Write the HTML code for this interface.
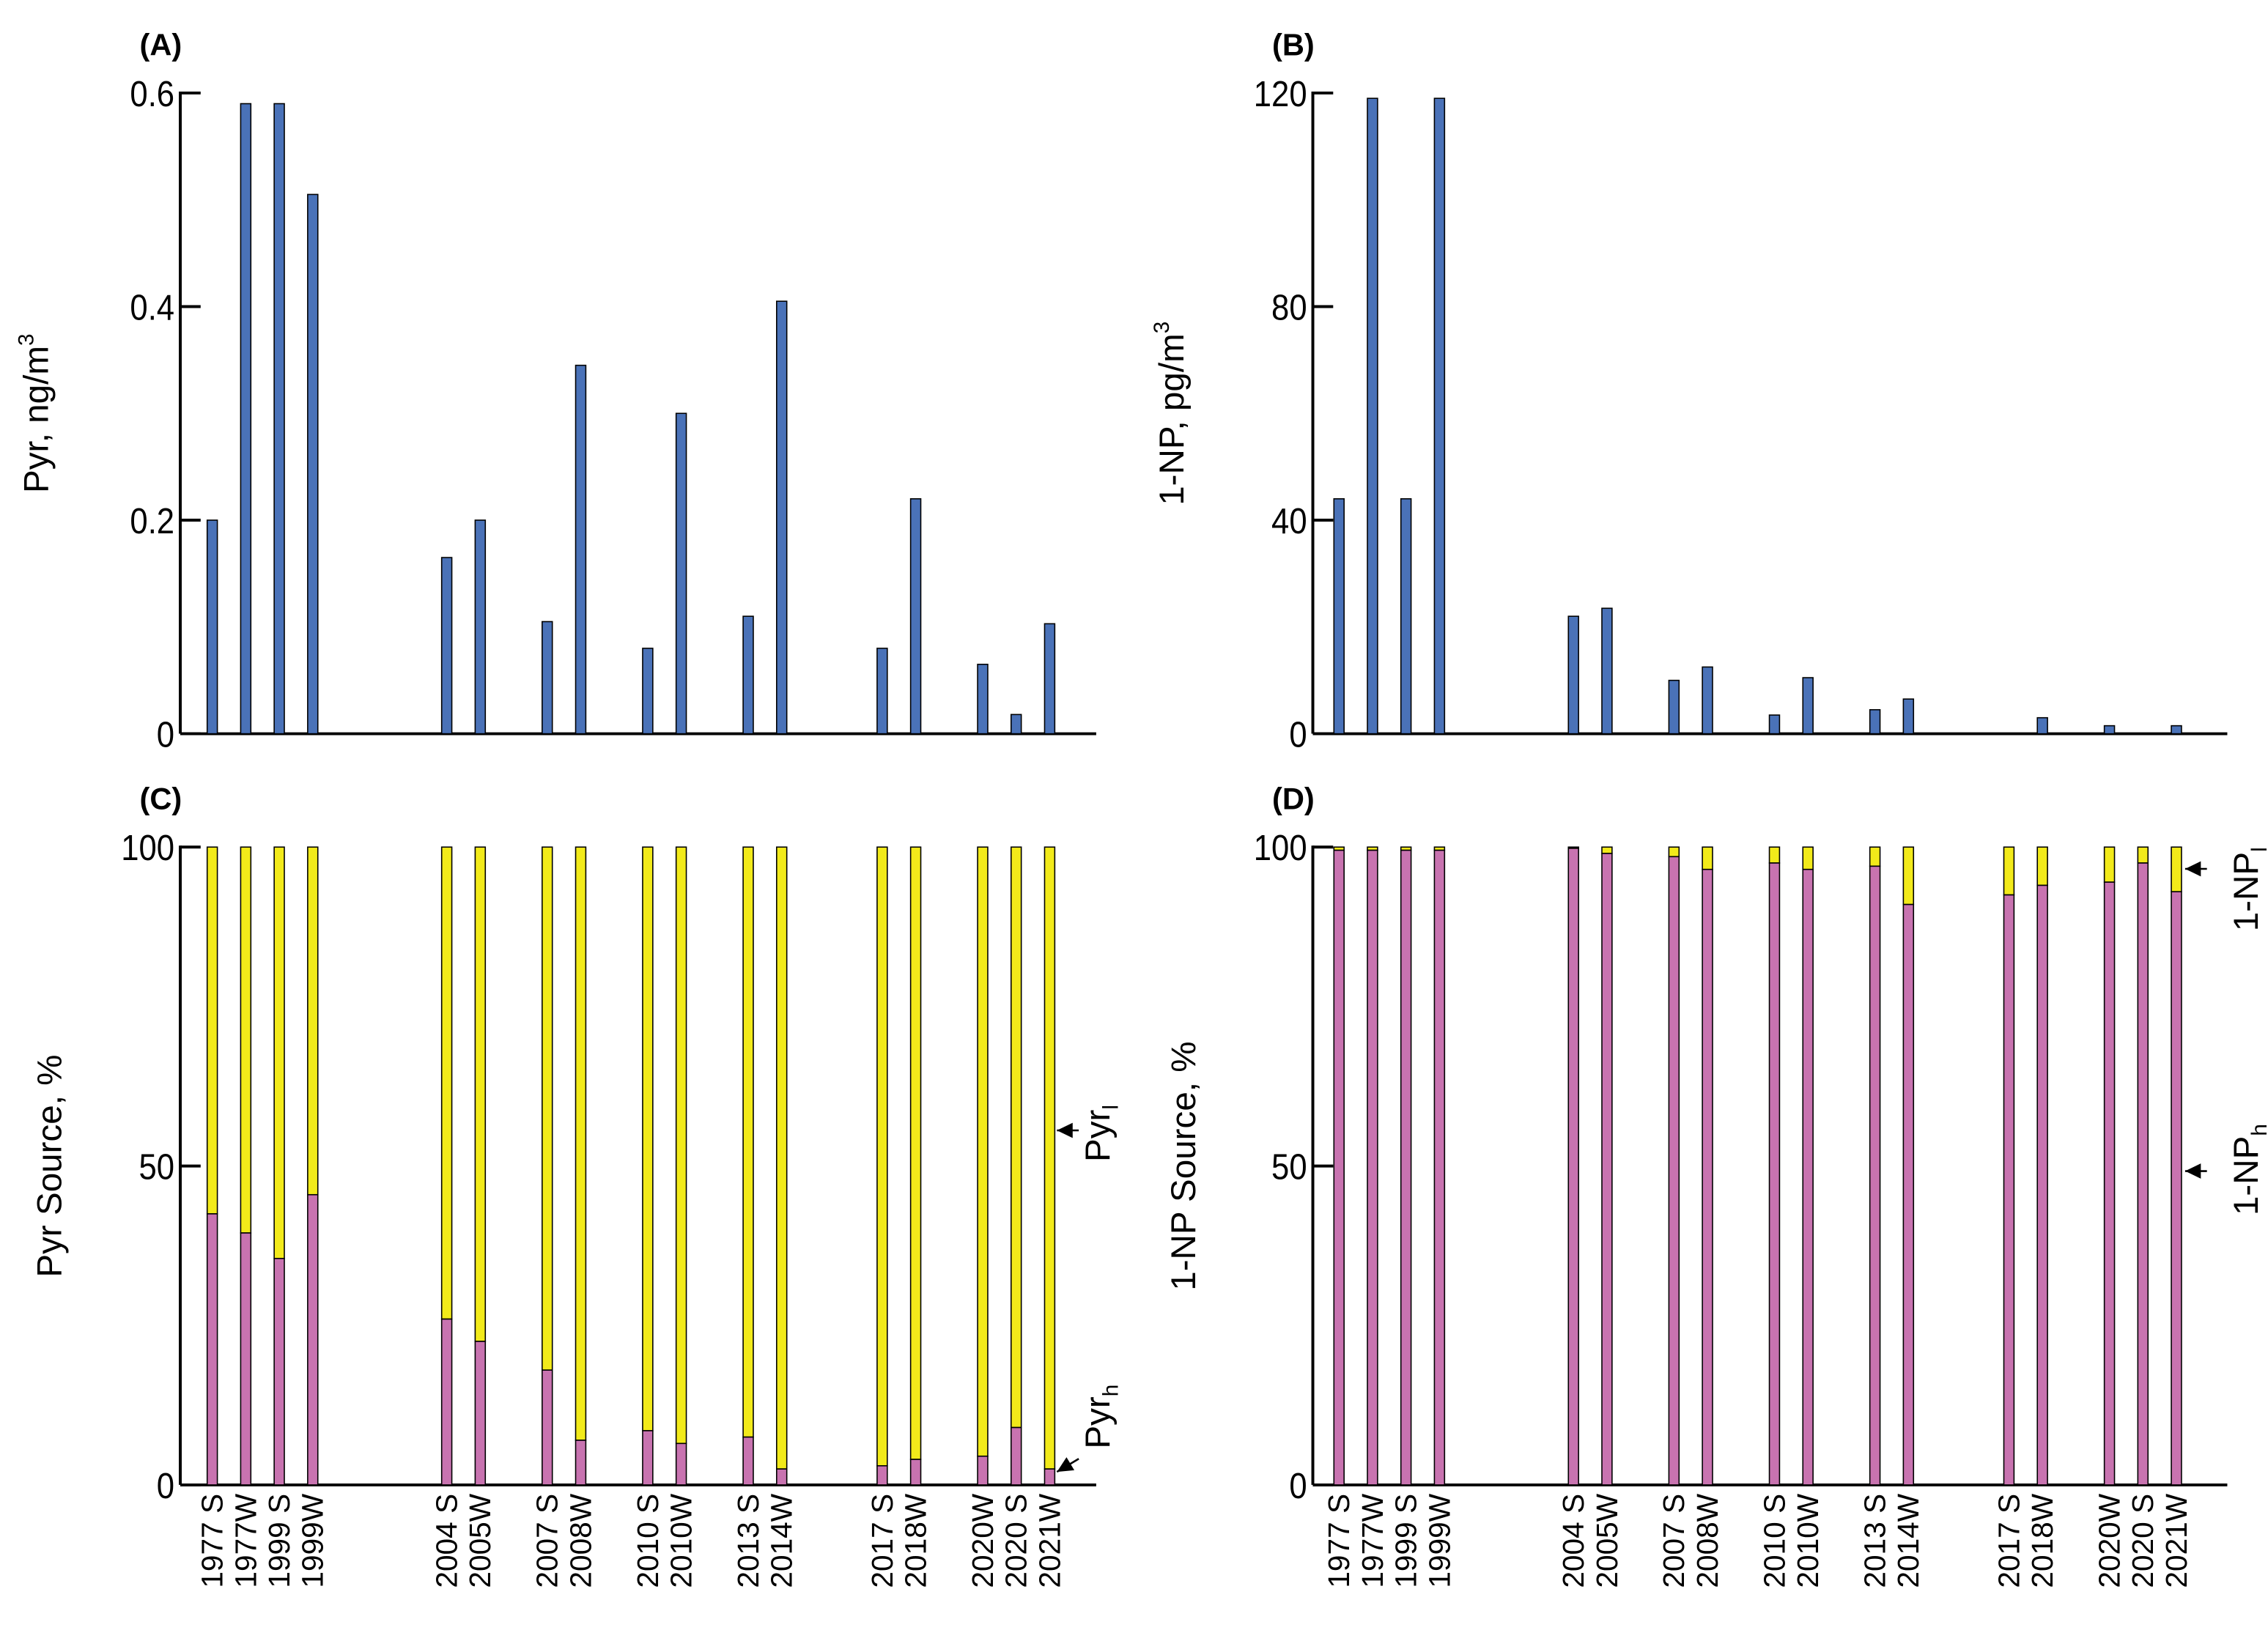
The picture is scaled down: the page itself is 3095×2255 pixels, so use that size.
<!DOCTYPE html>
<html><head><meta charset="utf-8"><style>
html,body{margin:0;padding:0;background:#fff}
svg{display:block}
text{font-family:"Liberation Sans",Arial,sans-serif;fill:#000}
</style></head><body>
<svg id="chart" width="3095" height="2255" viewBox="0 0 1560 1137" preserveAspectRatio="none" xmlns="http://www.w3.org/2000/svg"></svg>
<script>
const categories=["1977 S","1977W","1999 S","1999W","2004 S","2005W","2007 S","2008W","2010 S","2010W","2013 S","2014W","2017 S","2018W","2020W","2020 S","2021W"];
const pyrValues=[0.2,0.59,0.59,0.505,0.165,0.2,0.105,0.345,0.08,0.30,0.11,0.405,0.08,0.22,0.065,0.018,0.103];
const npValues=[44,119,44,119,22,23.5,10,12.5,3.5,10.5,4.5,6.5,0,3,1.5,0,1.5];
const pyrHeavy=[42.5,39.5,35.5,45.5,26,22.5,18,7,8.5,6.5,7.5,2.5,3,4,4.5,9,2.5];
const npHeavy=[99.5,99.5,99.5,99.5,99.8,99,98.5,96.5,97.5,96.5,97,91,92.5,94,94.5,97.5,93];
const pyrTicks=[0,0.2,0.4,0.6];
const npTicks=[0,40,80,120];
const pctTicks=[0,50,100];
const groupIdx=[0,1,2,3,7,8,10,11,13,14,16,17,20,21,23,24,25];

const svg=document.getElementById('chart');
const NS='http://www.w3.org/2000/svg';
function mk(tag,attrs,parent){const e=document.createElementNS(NS,tag);for(const k in attrs)e.setAttribute(k,attrs[k]);(parent||svg).appendChild(e);return e;}

function panel(opt){
  const g=mk('g',{});
  
  
  const x0=opt.x0,x1=opt.x1,yT=opt.yT,yB=opt.yB,ymax=opt.ymax;
  const ys=v=>yB-(v/ymax)*(yB-yT);
  const xs=i=>opt.firstX+groupIdx[i]*23.04;
  const ya=mk('line',{x1:x0,y1:yT-1,x2:x0,y2:yB,stroke:'#000','stroke-width':2},g);
  
  const xa=mk('line',{x1:x0,y1:yB,x2:x1,y2:yB,stroke:'#000','stroke-width':2},g);
  
  opt.ticks.forEach(t=>{
    const tk=mk('line',{x1:x0,y1:ys(t),x2:x0+14,y2:ys(t),stroke:'#000','stroke-width':2},g);
    
    const tl=mk('text',{x:x0-4,y:ys(t)+9,'text-anchor':'end','font-size':25,transform:`translate(${x0-4} 0) scale(0.88 1) translate(${-(x0-4)} 0)`},g);
    tl.textContent=String(t);
    
  });
  const tt=mk('text',{x:opt.titleX,y:(yT+yB)/2,'text-anchor':'middle','font-size':24,transform:`rotate(-90 ${opt.titleX} ${(yT+yB)/2})`},g);
  tt.innerHTML=opt.title;
  
  const lt=mk('text',{x:x0-28,y:opt.letterY,'font-size':21,'font-weight':'bold'},g);
  lt.textContent=opt.letter;
  
  const w=7;
  categories.forEach((c,i)=>{
    const cx=xs(i);
    if(opt.stack){
      const h=opt.values[i];
      const r1=mk('rect',{x:cx-w/2,y:ys(100),width:w,height:ys(h)-ys(100),fill:'#f2ea1a',stroke:'#000','stroke-width':0.8},g);
      
      const r2=mk('rect',{x:cx-w/2,y:ys(h),width:w,height:yB-ys(h),fill:'#c873b0',stroke:'#000','stroke-width':0.8},g);
      
    }else{
      const v=opt.values[i];
      if(v>0){
        const r=mk('rect',{x:cx-w/2,y:ys(v),width:w,height:yB-ys(v),fill:'#4a72b8',stroke:'#000','stroke-width':0.8},g);
        
      }
    }
    if(opt.xlabels){
      const lx=cx+7,ly=yB+6;
      const tl=mk('text',{x:lx,y:ly,'text-anchor':'end','font-size':20.5,transform:`rotate(-90 ${lx} ${ly})`},g);
      tl.textContent=c;
      
    }
  });
  return g;
}
panel({name:'panel-a',x0:124,x1:754,yT:64,yB:505,ymax:0.6,ticks:pyrTicks,values:pyrValues,firstX:146,title:'Pyr, ng/m<tspan dy="-10" font-size="15">3</tspan>',titleX:33,letter:'(A)',letterY:38});
panel({name:'panel-b',x0:903,x1:1532,yT:64,yB:505,ymax:120,ticks:npTicks,values:npValues,firstX:921,title:'1-NP, pg/m<tspan dy="-10" font-size="15">3</tspan>',titleX:814,letter:'(B)',letterY:38});
panel({name:'panel-c',x0:124,x1:754,yT:583,yB:1022,ymax:100,ticks:pctTicks,values:pyrHeavy,firstX:146,stack:true,xlabels:true,title:'Pyr Source, %',titleX:42,letter:'(C)',letterY:557});
panel({name:'panel-d',x0:903,x1:1532,yT:583,yB:1022,ymax:100,ticks:pctTicks,values:npHeavy,firstX:921,stack:true,xlabels:true,title:'1-NP Source, %',titleX:822,letter:'(D)',letterY:557});

function ann(name,tx,ty,html,ax1,ay1,ax2,ay2){
  const g=mk('g',{});
  
  const t=mk('text',{x:tx,y:ty,'text-anchor':'middle','font-size':24,transform:`rotate(-90 ${tx} ${ty})`},g);
  t.innerHTML=html;
  mk('line',{x1:ax1,y1:ay1,x2:ax2,y2:ay2,stroke:'#000','stroke-width':1.3},g);
  const ang=Math.atan2(ay2-ay1,ax2-ax1);
  const p=[[ax2,ay2],[ax2-12*Math.cos(ang-0.45),ay2-12*Math.sin(ang-0.45)],[ax2-12*Math.cos(ang+0.45),ay2-12*Math.sin(ang+0.45)]];
  mk('polygon',{points:p.map(q=>q.join(',')).join(' '),fill:'#000'},g);
}
ann('label-pyr-l',763,780,'Pyr<tspan dy="6" font-size="15">l</tspan>',742,778,727,778);
ann('label-pyr-h',763,975,'Pyr<tspan dy="6" font-size="15">h</tspan>',742,1004,727,1013);
ann('label-np-l',1553,612,'1-NP<tspan dy="6" font-size="15">l</tspan>',1518,598,1503,598);
ann('label-np-h',1553,805,'1-NP<tspan dy="6" font-size="15">h</tspan>',1518,806,1503,806);
</script>
</body></html>
